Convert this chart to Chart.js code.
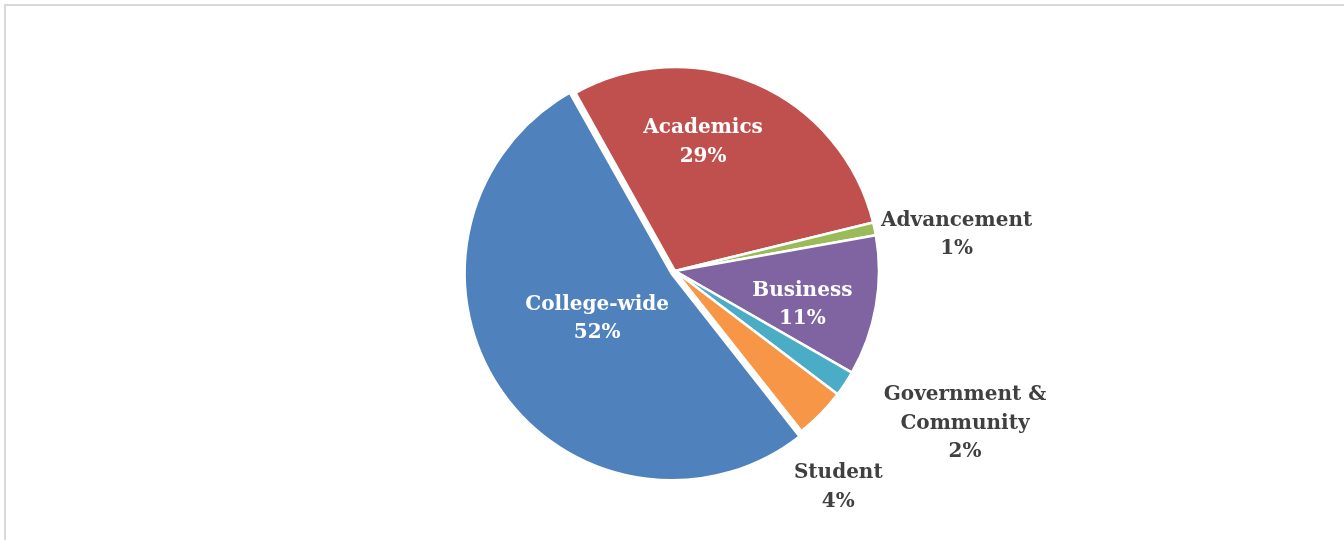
<!DOCTYPE html>
<html lang="en">
<head>
  <meta charset="UTF-8">
  <title>Share by Area</title>
  <script src="https://cdn.jsdelivr.net/npm/chart.js"></script>
  <style>
    html, body {
      margin: 0;
      padding: 0;
      background: #fff;
      overflow: hidden;
    }
    .frame {
      position: absolute;
      left: 4px;
      top: 4px;
      width: 1400px;
      height: 600px;
      border-top: 2px solid #d9d9d9;
      border-left: 2px solid #d9d9d9;
    }
    .chart-box {
      position: absolute;
      left: 0;
      top: 0;
      width: 1344px;
      height: 540px;
    }
  </style>
</head>
<body>
  <div class="frame"></div>
  <div class="chart-box">
    <canvas id="pieChart" width="1344" height="540"></canvas>
  </div>

  <script>
    const categories = ['Academics', 'Advancement', 'Business', 'Government & Community', 'Student', 'College-wide'];
    const shares = [29, 1, 11, 2, 4, 52];
    const sliceColors = ['#C0504D', '#9BBB59', '#8064A2', '#4BACC6', '#F79646', '#4F81BD'];

    // label text lines per slice, and where each label sits
    const labelLines = [
      ['Academics'],
      ['Advancement'],
      ['Business'],
      ['Government &', 'Community'],
      ['Student'],
      ['College-wide']
    ];
    const labelInside = [true, false, true, false, false, true];
    // [distance as fraction of radius, angle shift in degrees from the slice middle]
    const labelPlace = [[0.645, -11.2], [1.392, 4.6], [0.646, 5], [1.606, -5.8], [1.328, 8.5], [0.447, 2.3]];

    const sliceLabels = {
      id: 'sliceLabels',
      afterDatasetsDraw(chart) {
        const ctx = chart.ctx;
        const arcs = chart.getDatasetMeta(0).data;
        ctx.save();
        ctx.font = 'bold 20px "DejaVu Serif"';
        ctx.textAlign = 'center';
        ctx.textBaseline = 'middle';
        arcs.forEach((arc, i) => {
          const p = arc.getProps(['x', 'y', 'startAngle', 'endAngle', 'outerRadius'], true);
          const mid = (p.startAngle + p.endAngle) / 2 + labelPlace[i][1] * Math.PI / 180;
          const r = p.outerRadius * labelPlace[i][0];
          const cx = p.x + Math.cos(mid) * r;
          const cy = p.y + Math.sin(mid) * r;
          const lines = labelLines[i].concat([shares[i] + '%']);
          const lineH = 28.5;
          const top = cy - (lines.length - 1) * lineH / 2;
          ctx.fillStyle = labelInside[i] ? '#ffffff' : '#404040';
          lines.forEach((t, k) => ctx.fillText(t, cx, top + k * lineH));
        });
        ctx.restore();
      }
    };

    new Chart(document.getElementById('pieChart'), {
      type: 'pie',
      data: {
        labels: categories,
        datasets: [{
          data: shares,
          backgroundColor: sliceColors,
          borderColor: '#ffffff',
          borderWidth: [2.5, 2.5, 2.5, 2.5, 2.5, 3.5],
          offset: [0, 0, 0, 0, 0, 15]
        }]
      },
      options: {
        responsive: false,
        animation: false,
        rotation: -29.2,
        radius: 204,
        layout: {
          padding: { left: 6, right: 0, top: 2, bottom: 0 }
        },
        plugins: {
          legend: { display: false },
          tooltip: { enabled: false }
        }
      },
      plugins: [sliceLabels]
    });
  </script>
</body>
</html>
